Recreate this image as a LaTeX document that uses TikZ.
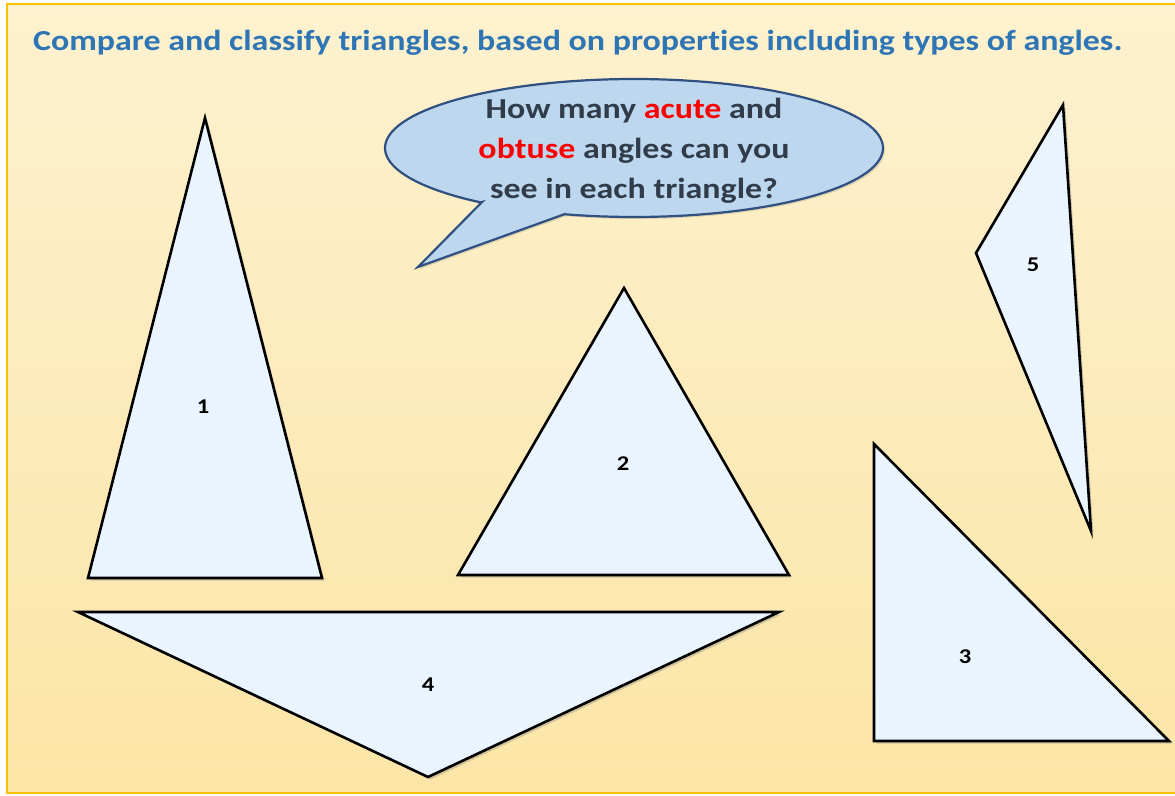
\documentclass[tikz,border=0pt]{standalone}
\usepackage{fontspec}
\setmainfont{Carlito}[FakeStretch=1.17, Ligatures=NoCommon]
\usetikzlibrary{shadows}
\definecolor{titleblue}{HTML}{2E75B6}
\definecolor{bgtop}{HTML}{FDF1CF}
\definecolor{bgmid}{HTML}{F2F1EC}
\definecolor{bgbot}{HTML}{FCE5A6}
\definecolor{frame}{HTML}{FFC000}
\definecolor{trifill}{HTML}{EAF4FE}
\definecolor{bubfill}{HTML}{BDD7EE}
\definecolor{bubline}{HTML}{2F5080}
\definecolor{bubtext}{HTML}{313C4B}
\definecolor{hired}{HTML}{FF0000}
\tikzset{
  tri/.style={draw=black, fill=trifill, line width=2.6pt, line join=miter,
    drop shadow={opacity=0.35, shadow xshift=2.5pt, shadow yshift=-2.5pt}},
  lbl/.style={font=\fontsize{21}{24}\selectfont\bfseries, text=black, inner sep=0pt},
  bubtxt/.style={font=\fontsize{29}{40}\selectfont\bfseries, text=bubtext, inner sep=0pt, anchor=base},
}
\begin{document}
\begin{tikzpicture}[x=1pt,y=-1pt]
\useasboundingbox (0,0) rectangle (1175,795);
\fill[white] (0,0) rectangle (1175,795);
\shade[top color=bgtop, middle color=bgmid, bottom color=bgbot] (7,4) rectangle (1185,793);
\draw[frame, line width=2pt] (7,4) rectangle (1185,793);

\node[anchor=base west, inner sep=0pt, text=titleblue,
  font=\fontsize{29}{34}\selectfont\bfseries] (title) at (33,50)
  {Compare and classify triangles, based on properties including types of angles.};

% speech bubble
\path[fill=bubfill, draw=bubline, line width=2.2pt, line join=miter,
  drop shadow={opacity=0.25, shadow xshift=2pt, shadow yshift=-2pt}]
  (482,202) -- (418,267) -- (565,214)
  -- plot[domain=106:-232, samples=120] ({634+249*cos(\x)},{148+69*sin(\x)}) -- cycle;
\node[bubtxt] (q1) at (634,118) {How many \textcolor{hired}{acute} and};
\node[bubtxt] (q2) at (634,158) {\textcolor{hired}{obtuse} angles can you};
\node[bubtxt] (q3) at (634,198) {see in each triangle?};

% triangles
\path[tri] (205,118) -- (322,578) -- (88,578) -- cycle;
\path[tri] (624,288) -- (789,575) -- (458,575) -- cycle;
\path[tri] (874,444) -- (1169,741) -- (874,741) -- cycle;
\path[tri] (78,612) -- (779,612) -- (428,777) -- cycle;
\path[tri] (1063,105) -- (1091,531) -- (976,253) -- cycle;

\node[lbl] (n1) at (203,407) {1};
\node[lbl] (n2) at (623,464) {2};
\node[lbl] (n3) at (965,657) {3};
\node[lbl] (n4) at (428,685) {4};
\node[lbl] (n5) at (1033,265) {5};
\end{tikzpicture}
\end{document}
